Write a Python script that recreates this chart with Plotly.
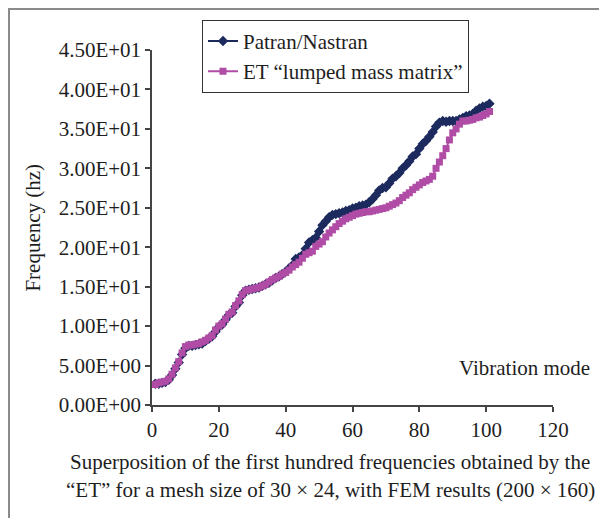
import plotly.graph_objects as go

modes = list(range(1, 102))

patran_nastran = [
    2.7, 2.7, 2.8, 2.9, 3.2, 3.8, 4.6, 5.4, 6.4, 7.2,
    7.5, 7.5, 7.6, 7.7, 7.8, 8.1, 8.4, 8.7, 9.3, 9.9,
    10.2, 10.8, 11.4, 11.7, 12.5, 13.0, 13.9, 14.5, 14.6, 14.7,
    14.8, 14.9, 15.1, 15.3, 15.5, 15.8, 16.1, 16.3, 16.6, 16.9,
    17.3, 17.7, 18.5, 18.7, 19.0, 19.8, 20.6, 20.9, 21.2, 22.0,
    22.8, 23.3, 23.8, 24.1, 24.2, 24.3, 24.4, 24.6, 24.7, 24.9,
    25.0, 25.2, 25.3, 25.4, 25.7, 26.1, 26.6, 27.2, 27.5, 27.6,
    28.1, 28.7, 29.0, 29.4, 30.0, 30.4, 30.9, 31.5, 31.8, 32.5,
    33.1, 33.5, 34.0, 34.6, 35.3, 35.8, 36.0, 35.9, 36.0, 36.0,
    36.0, 36.2, 36.4, 36.6, 36.7, 36.9, 37.3, 37.6, 37.8, 37.9,
    38.2,
]

et_lumped = [
    2.6, 2.8, 2.9, 3.0, 3.3, 3.9, 4.7, 5.5, 6.6, 7.4,
    7.6, 7.6, 7.7, 7.8, 8.0, 8.2, 8.5, 8.8, 9.5, 10.0,
    10.3, 10.9, 11.5, 11.8, 12.6, 13.2, 14.0, 14.5, 14.6, 14.7,
    14.8, 14.9, 15.1, 15.3, 15.6, 15.9, 16.1, 16.3, 16.6, 16.8,
    17.1, 17.5, 17.8, 18.1, 18.6, 19.1, 19.3, 19.5, 20.1, 20.4,
    20.7, 21.3, 21.8, 22.2, 22.6, 23.0, 23.3, 23.6, 23.8, 24.0,
    24.2, 24.3, 24.4, 24.5, 24.5, 24.6, 24.7, 24.8, 24.9, 25.0,
    25.2, 25.4, 25.6, 25.9, 26.3, 26.6, 26.9, 27.3, 27.6, 27.9,
    28.2, 28.4, 28.6, 29.0, 30.0, 30.8, 31.6, 32.5, 33.6, 34.5,
    35.0, 35.6, 36.0, 36.0, 36.1, 36.2, 36.4, 36.5, 36.7, 36.9,
    37.2,
]

y_ticks = [0, 5, 10, 15, 20, 25, 30, 35, 40, 45]
y_tick_labels = ["0.00E+00", "5.00E+00", "1.00E+01", "1.50E+01", "2.00E+01",
                 "2.50E+01", "3.00E+01", "3.50E+01", "4.00E+01", "4.50E+01"]
x_ticks = [0, 20, 40, 60, 80, 100, 120]

FONT = "Liberation Serif, Times New Roman, serif"
TXT = "#1e1e1e"
FS = 21

fig = go.Figure()
fig.add_trace(go.Scatter(
    x=modes, y=patran_nastran, mode="lines+markers", name="Patran/Nastran",
    line=dict(color="#1c2a5e", width=2),
    marker=dict(symbol="diamond", size=8, color="#1c2a5e"),
))
fig.add_trace(go.Scatter(
    x=modes, y=et_lumped, mode="lines+markers", name="ET \u201clumped mass matrix\u201d",
    line=dict(color="#b04ca6", width=2),
    marker=dict(symbol="square", size=7, color="#b04ca6"),
))

axis_common = dict(
    showgrid=False, zeroline=False, showline=True, linecolor="#444", linewidth=1.5,
    ticks="outside", ticklen=5, tickwidth=1.5, tickcolor="#444",
    tickfont=dict(family=FONT, size=FS, color=TXT),
)

fig.update_xaxes(range=[0, 120], tickvals=x_ticks, **axis_common)
fig.update_yaxes(range=[0, 45], tickvals=y_ticks, ticktext=y_tick_labels, **axis_common)

fig.add_annotation(xref="paper", yref="paper", x=-0.299, y=0.5, xanchor="center", yanchor="middle",
                   text="Frequency (hz)", textangle=-90, showarrow=False,
                   font=dict(family=FONT, size=FS, color=TXT))
fig.add_annotation(xref="paper", yref="paper", x=0.444, y=-0.1606, yanchor="middle", xanchor="center",
                   text="Superposition of the first hundred frequencies obtained by the",
                   showarrow=False, font=dict(family=FONT, size=FS, color=TXT))
fig.add_annotation(xref="paper", yref="paper", x=0.444, y=-0.2394, yanchor="middle", xanchor="center",
                   text="\u201cET\u201d for a mesh size of 30 \u00d7 24, with FEM results (200 \u00d7 160)",
                   showarrow=False, font=dict(family=FONT, size=FS, color=TXT))
fig.add_annotation(xref="paper", yref="paper", x=0.930, y=0.104, yanchor="middle", xanchor="center",
                   text="Vibration mode", showarrow=False, font=dict(family=FONT, size=FS, color=TXT))

fig.add_shape(type="path", xref="paper", yref="paper",
              path="M -0.3566,-0.4 L -0.3566,1.1155 L 1.3,1.1155",
              line=dict(color="#8a8a8a", width=2))

fig.update_layout(
    width=599, height=510,
    margin=dict(l=144, r=54, t=42, b=113),
    paper_bgcolor="white", plot_bgcolor="white",
    showlegend=True,
    legend=dict(x=0.1247, y=1.085, xanchor="left", yanchor="top",
                bgcolor="white", bordercolor="#333", borderwidth=1,
                font=dict(family=FONT, size=FS, color=TXT)),
)

fig.write_html("out.html")
